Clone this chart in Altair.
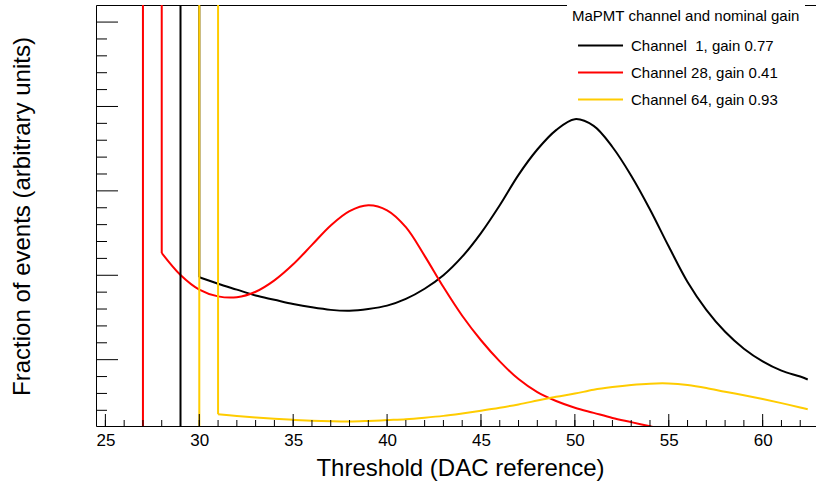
import altair as alt
import pandas as pd

FONT = "Liberation Sans"

series_names = ["Channel \u00a01, gain 0.77", "Channel 28, gain 0.41", "Channel 64, gain 0.93"]
series_colors = ["#000000", "#ff0000", "#ffcc00"]

black_x = [30, 31, 32, 33, 34, 35, 36, 37, 38, 39, 40, 41, 42, 43, 44, 45, 46,
           47, 48, 49, 50, 51, 52, 53, 54, 55, 56, 57, 58, 59, 60, 61, 62, 62.4]
black_y = [1.976, 1.90, 1.83, 1.76, 1.71, 1.66, 1.62, 1.59, 1.58, 1.60, 1.64, 1.72,
           1.84, 2.00, 2.22, 2.50, 2.83, 3.19, 3.49, 3.72, 3.85, 3.77, 3.52, 3.18,
           2.78, 2.34, 1.92, 1.59, 1.33, 1.13, 0.98, 0.87, 0.80, 0.765]
red_x = [28, 29, 30, 31, 32, 33, 34, 35, 36, 37, 38, 39, 40, 41, 42, 43, 44, 45,
         46, 47, 48, 49, 50, 51, 52, 53, 54, 55]
red_y = [2.264, 2.003, 1.83, 1.75, 1.74, 1.805, 1.94, 2.13, 2.36, 2.59, 2.76, 2.83,
         2.77, 2.57, 2.23, 1.86, 1.52, 1.23, 0.98, 0.77, 0.615, 0.51, 0.43, 0.37,
         0.31, 0.26, 0.21, 0.16]
yellow_x = [31, 32, 33, 34, 35, 36, 37, 38, 39, 40, 41, 42, 43, 44, 45, 46, 47,
            48, 49, 50, 51, 52, 53, 54, 55, 56, 57, 58, 59, 60, 61, 62, 62.4]
yellow_y = [0.353, 0.333, 0.315, 0.299, 0.287, 0.277, 0.270, 0.267, 0.274, 0.284,
            0.294, 0.312, 0.334, 0.363, 0.395, 0.430, 0.470, 0.515, 0.560, 0.598,
            0.643, 0.675, 0.700, 0.716, 0.718, 0.700, 0.665, 0.620, 0.578, 0.533,
            0.485, 0.434, 0.412]

# one-bin spikes (bin edges) running off the top of the frame
black_spike = [29, 30]
red_spike = [27, 28]
yellow_spike = [30, 31]
spike_low = 0.0
spike_high = 50.0

x_domain = [24.5, 62.84]
y_domain = [0.2141, 5.2023]
x_major = [25, 30, 35, 40, 45, 50, 55, 60]
x_minor = list(range(25, 63))
y_major = [1, 2, 3, 4, 5]
y_minor = [0.4, 0.6, 0.8, 1.2, 1.4, 1.6, 1.8, 2.2, 2.4, 2.6, 2.8, 3.2, 3.4, 3.6,
           3.8, 4.2, 4.4, 4.6, 4.8]

W, H = 720, 421

rows = []
for name, xs, ys in zip(series_names, [black_x, red_x, yellow_x], [black_y, red_y, yellow_y]):
    for i, (a, b) in enumerate(zip(xs, ys)):
        rows.append({"series": name, "x": a, "y": b, "i": i})
curves = pd.DataFrame(rows)

srows = []
for name, edges, ys in zip(series_names, [black_spike, red_spike, yellow_spike],
                           [black_y, red_y, yellow_y]):
    pts = [(edges[0], spike_low), (edges[0], spike_high), (edges[1], spike_high), (edges[1], ys[0])]
    for i, (a, b) in enumerate(pts):
        srows.append({"series": name, "x": a, "y": b, "i": i})
spikes = pd.DataFrame(srows)

xscale = alt.Scale(domain=x_domain, nice=False, zero=False)
yscale = alt.Scale(domain=y_domain, nice=False, zero=False)
cscale = alt.Scale(domain=series_names, range=series_colors)

curve_layer = alt.Chart(curves).mark_line(strokeWidth=2, clip=True, interpolate="catmull-rom").encode(
    x=alt.X("x:Q", scale=xscale, axis=alt.Axis(
        orient="bottom", values=x_major, ticks=False, tickSize=0, grid=False,
        domain=True, domainColor="black", domainWidth=1,
        labelFont=FONT, labelFontSize=17, labelColor="black", labelPadding=6,
        title="Threshold (DAC reference)", titleFont=FONT, titleFontSize=24,
        titleFontWeight="normal", titleColor="black",
        titleX=364, titleY=42, titleBaseline="middle", titleAlign="center")),
    y=alt.Y("y:Q", scale=yscale, axis=alt.Axis(
        orient="left", labels=False, ticks=False, tickSize=0, grid=False,
        domain=True, domainColor="black", domainWidth=1,
        title="Fraction of events (arbitrary units)", titleFont=FONT, titleFontSize=24,
        titleFontWeight="normal", titleColor="black",
        titleX=-74, titleY=211, titleAngle=270, titleBaseline="middle", titleAlign="center")),
    color=alt.Color("series:N", scale=cscale, legend=alt.Legend(
        orient="none", legendX=471, legendY=-1,
        title="MaPMT channel and nominal gain", titleFont=FONT, titleFontSize=15,
        titleFontWeight="normal", titleColor="black", titlePadding=13, titleLimit=500,
        labelFont=FONT, labelFontSize=15, labelColor="black", labelOffset=42, labelLimit=500,
        symbolType="M-0.33,0H5.67", symbolSize=225, symbolStrokeWidth=2,
        fillColor="white", padding=5, rowPadding=10)),
    order=alt.Order("i:Q"),
)

spike_layer = alt.Chart(spikes).mark_line(strokeWidth=2, clip=True).encode(
    x=alt.X("x:Q", scale=xscale, axis=None),
    y=alt.Y("y:Q", scale=yscale, axis=None),
    color=alt.Color("series:N", scale=cscale, legend=None),
    order=alt.Order("i:Q"),
)

xmaj = alt.Chart(pd.DataFrame({"v": x_major})).mark_rule(color="black", strokeWidth=1).encode(
    x=alt.X("v:Q", scale=xscale, axis=alt.Axis(orient="top", labels=False, ticks=False,
                                                 grid=False, title=None, domain=True,
                                                 domainColor="black")),
    y=alt.value(H), y2=alt.value(H - 12),
)
xmin = alt.Chart(pd.DataFrame({"v": x_minor})).mark_rule(color="black", strokeWidth=1).encode(
    x=alt.X("v:Q", scale=xscale, axis=None),
    y=alt.value(H), y2=alt.value(H - 6),
)
ymaj = alt.Chart(pd.DataFrame({"v": y_major})).mark_rule(color="black", strokeWidth=1).encode(
    y=alt.Y("v:Q", scale=yscale, axis=None),
    x=alt.value(0), x2=alt.value(22),
)
ymin = alt.Chart(pd.DataFrame({"v": y_minor})).mark_rule(color="black", strokeWidth=1).encode(
    y=alt.Y("v:Q", scale=yscale, axis=None),
    x=alt.value(0), x2=alt.value(11),
)

chart = alt.layer(curve_layer, spike_layer, xmaj, xmin, ymaj, ymin).resolve_axis(
    x="independent", y="independent"
).resolve_legend(color="independent").properties(
    width=W, height=H,
    autosize=alt.AutoSizeParams(type="none"),
    padding={"left": 96, "top": 5, "right": 0, "bottom": 62},
).configure_view(stroke=None).configure(font=FONT)

chart.save("out.html", embed_options={"renderer": "svg", "actions": False})
